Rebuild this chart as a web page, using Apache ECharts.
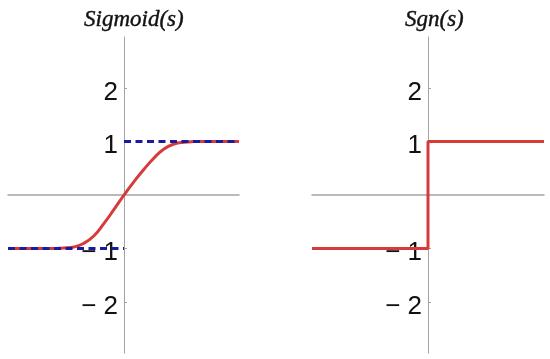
<!DOCTYPE html>
<html>
<head>
<meta charset="utf-8">
<script src="https://cdn.jsdelivr.net/npm/echarts@6/dist/echarts.min.js"></script>
<style>
html,body{margin:0;padding:0;background:#fff;}
#chart{width:550px;height:359px;}
</style>
</head>
<body>
<div id="chart"></div>
<script>
// ---- data ----
const titles = ['Sigmoid(s)', 'Sgn(s)'];
const yTickValues = [-2, -1, 1, 2];
const sigmoidS = [-5.8, -4.0, -3.5, -3.0, -2.5, -2.0, -1.5, -1.0, -0.5, 0, 0.5, 1.0, 1.5, 2.0, 2.5, 3.0, 3.5, 4.0, 5.75];
const sigmoidV = [-1.0, -1.0, -0.998, -0.99, -0.97, -0.9, -0.76, -0.53, -0.27, 0, 0.25, 0.48, 0.69, 0.86, 0.95, 0.985, 0.997, 1.0, 1.0];
const upperAsymS = [0, 5.75];
const upperAsymV = [1, 1];
const lowerAsymS = [-5.8, 0];
const lowerAsymV = [-1, -1];
const sgnS = [-5.8, 0, 0, 5.8];
const sgnV = [-1, -1, 1, 1];

const zip = (a, b) => a.map((v, i) => [v, b[i]]);

const red = '#d83a3a';
const blue = '#1a1a9e';
const gray = '#a3a3a3';

function yAxisDef(gi, off) {
  return {
    type: 'value', gridIndex: gi, min: -2.95, max: 2.95, position: 'left', offset: off,
    axisLine: { show: true, onZero: false, lineStyle: { color: gray, width: 1 } },
    axisTick: { show: true, inside: true, length: 3, customValues: yTickValues, lineStyle: { color: gray } },
    axisLabel: {
      show: true, customValues: yTickValues, margin: 6,
      fontFamily: 'Liberation Sans', fontSize: 26, color: '#111',
      verticalAlign: 'top', lineHeight: 9,
      formatter: v => v < 0 ? '\u2212 ' + Math.abs(v) : String(v)
    },
    splitLine: { show: false }
  };
}
function xAxisDef(gi, mn, mx) {
  return {
    type: 'value', gridIndex: gi, min: mn, max: mx,
    axisLine: { show: true, onZero: true, lineStyle: { color: gray, width: 1.5 } },
    axisTick: { show: false }, axisLabel: { show: false }, splitLine: { show: false }
  };
}
const titleStyle = { fontFamily: 'Liberation Serif', fontStyle: 'italic', fontWeight: 'normal', fontSize: 23, color: '#111', textBorderColor: '#111', textBorderWidth: 0.4 };

const chart = echarts.init(document.getElementById('chart'), null, { renderer: 'canvas' });
chart.setOption({
  animation: false,
  backgroundColor: '#fff',
  title: [
    { text: titles[0], left: 79, top: 3, textStyle: titleStyle },
    { text: titles[1], left: 400, top: 3, textStyle: titleStyle }
  ],
  grid: [
    { left: 8, top: 37, width: 231, height: 316, outerBoundsMode: 'none', containLabel: false },
    { left: 312, top: 37, width: 232, height: 316, outerBoundsMode: 'none', containLabel: false }
  ],
  xAxis: [xAxisDef(0, -5.8, 5.75), xAxisDef(1, -5.8, 5.8)],
  yAxis: [yAxisDef(0, -116), yAxisDef(1, -116)],
  series: [
    { type: 'line', xAxisIndex: 0, yAxisIndex: 0, data: zip(sigmoidS, sigmoidV), smooth: 0.5, showSymbol: false, symbol: 'none', lineStyle: { color: red, width: 3 }, z: 2 },
    { type: 'line', xAxisIndex: 0, yAxisIndex: 0, data: zip(upperAsymS, upperAsymV), showSymbol: false, symbol: 'none', lineStyle: { color: blue, width: 3, type: [7, 4.5] }, z: 3 },
    { type: 'line', xAxisIndex: 0, yAxisIndex: 0, data: zip(lowerAsymS, lowerAsymV), showSymbol: false, symbol: 'none', lineStyle: { color: blue, width: 3, type: [7, 4.5] }, z: 3 },
    { type: 'line', xAxisIndex: 1, yAxisIndex: 1, data: zip(sgnS, sgnV), showSymbol: false, symbol: 'none', lineStyle: { color: red, width: 3 }, z: 2 }
  ]
});
</script>
</body>
</html>
